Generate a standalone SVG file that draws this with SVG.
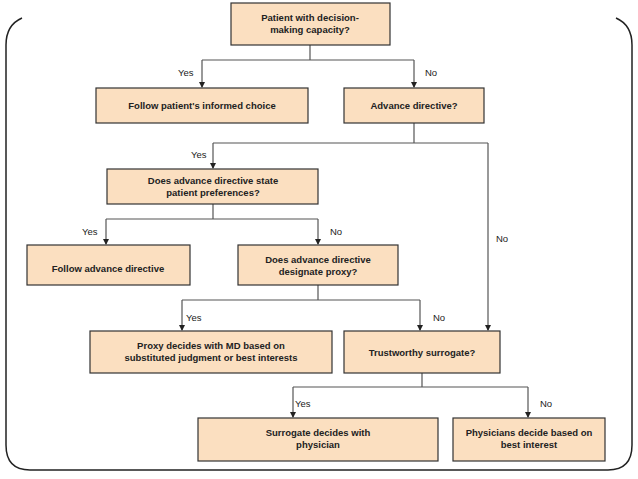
<svg xmlns="http://www.w3.org/2000/svg" width="638" height="479" viewBox="0 0 638 479">
<defs><style>
.b{fill:#fbdfc0;stroke:#333;stroke-width:1.2}
.t{font-family:"Liberation Sans",Arial,sans-serif;font-size:9.5px;font-weight:bold;fill:#222;text-anchor:middle}
.l{font-family:"Liberation Sans",Arial,sans-serif;font-size:9.5px;fill:#222}
.c{fill:none;stroke:#555;stroke-width:1.2}
</style>
<marker id="a" markerWidth="6" markerHeight="6" refX="5" refY="3" orient="auto" markerUnits="userSpaceOnUse"><path d="M0,0 L6,3 L0,6 Z" fill="#222"/></marker></defs>
<rect width="638" height="479" fill="#fff"/>
<path d="M22,18 Q6,25 6,45 L6,445 Q6,470 30,470 L608,470 Q632,470 632,445 L632,45 Q632,25 616,18" fill="none" stroke="#222" stroke-width="1.5"/>
<g id="connectors" class="c">
<path d="M310,45 V60 M202,60 H414"/>
<path d="M202,60 V87" marker-end="url(#a)"/><path d="M414,60 V87" marker-end="url(#a)"/>
<path d="M414,123 V143 M213,143 H488"/>
<path d="M213,143 V168" marker-end="url(#a)"/><path d="M488,143 V330" marker-end="url(#a)"/>
<path d="M213,204 V219 M106,219 H318"/>
<path d="M106,219 V244" marker-end="url(#a)"/><path d="M318,219 V244" marker-end="url(#a)"/>
<path d="M318,285 V300 M182,300 H420"/>
<path d="M182,300 V330" marker-end="url(#a)"/><path d="M420,300 V330" marker-end="url(#a)"/>
<path d="M422,373 V387 M293,387 H528"/>
<path d="M293,387 V417" marker-end="url(#a)"/><path d="M528,387 V417" marker-end="url(#a)"/>
</g>
<g class="l">
<text x="178" y="76">Yes</text><text x="425" y="76">No</text>
<text x="191" y="158">Yes</text><text x="496" y="242">No</text>
<text x="82" y="235">Yes</text><text x="330" y="235">No</text>
<text x="186" y="321">Yes</text><text x="433" y="321">No</text>
<text x="295" y="407">Yes</text><text x="540" y="407">No</text>
</g>
<g id="n1"><rect class="b" x="231" y="3" width="159" height="42"/><text class="t" x="310" y="21">Patient with decision-</text><text class="t" x="310" y="33">making capacity?</text></g>
<g id="n2"><rect class="b" x="96" y="88" width="212" height="35"/><text class="t" x="202" y="109">Follow patient's informed choice</text></g>
<g id="n3"><rect class="b" x="344" y="88" width="140" height="35"/><text class="t" x="414" y="109">Advance directive?</text></g>
<g id="n4"><rect class="b" x="107" y="169" width="211" height="35"/><text class="t" x="213" y="184">Does advance directive state</text><text class="t" x="213" y="196">patient preferences?</text></g>
<g id="n5"><rect class="b" x="27" y="245" width="163" height="40"/><text class="t" x="108" y="272">Follow advance directive</text></g>
<g id="n6"><rect class="b" x="238" y="245" width="160" height="40"/><text class="t" x="318" y="263">Does advance directive</text><text class="t" x="318" y="275">designate proxy?</text></g>
<g id="n7"><rect class="b" x="90" y="331" width="242" height="42"/><text class="t" x="211" y="349">Proxy decides with MD based on</text><text class="t" x="211" y="361">substituted judgment or best interests</text></g>
<g id="n8"><rect class="b" x="344" y="331" width="156" height="42"/><text class="t" x="422" y="356">Trustworthy surrogate?</text></g>
<g id="n9"><rect class="b" x="198" y="418" width="240" height="43"/><text class="t" x="318" y="436">Surrogate decides with</text><text class="t" x="318" y="448">physician</text></g>
<g id="n10"><rect class="b" x="453" y="418" width="152" height="43"/><text class="t" x="529" y="436">Physicians decide based on</text><text class="t" x="529" y="448">best interest</text></g>
</svg>
